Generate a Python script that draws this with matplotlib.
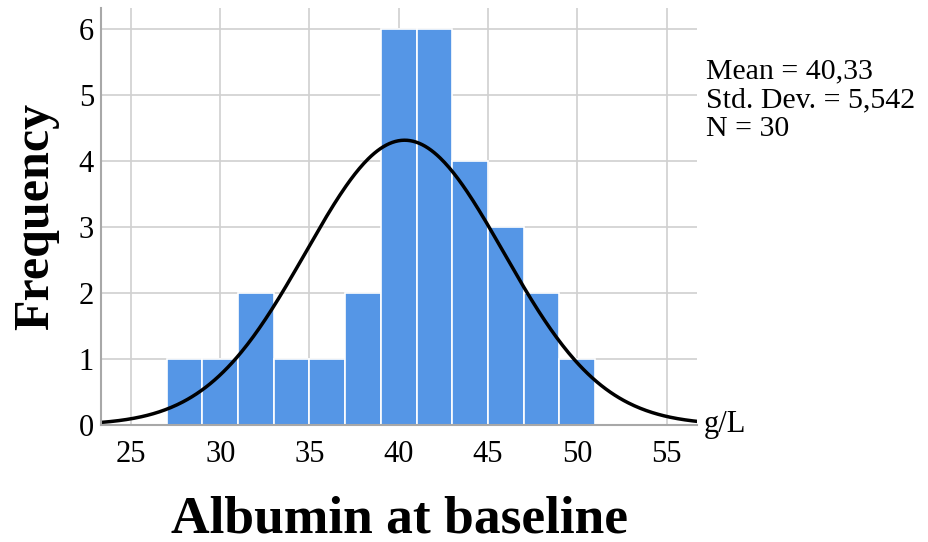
import numpy as np
import matplotlib
matplotlib.use("Agg")
import matplotlib.pyplot as plt

# histogram bins (g/L) and counts
BIN_EDGES = [27, 29, 31, 33, 35, 37, 39, 41, 43, 45, 47, 49, 51]
COUNTS = [1, 1, 2, 1, 1, 2, 6, 6, 4, 3, 2, 1]
MEAN = 40.33
STD = 5.542
N = 30
X_TICKS = [25, 30, 35, 40, 45, 50, 55]
Y_TICKS = [0, 1, 2, 3, 4, 5, 6]

plt.rcParams["font.family"] = ["Liberation Serif", "DejaVu Serif"]

fig = plt.figure(figsize=(9.29, 5.42), dpi=100)
ax = fig.add_axes([0.1087, 0.2159, 0.6416, 0.7688])

edges = np.array(BIN_EDGES, dtype=float)
ax.bar(edges[:-1], COUNTS, width=np.diff(edges), align="edge",
       color="#5596e6", edgecolor="white", linewidth=1.2, zorder=2)

xlo, xhi = 23.32, 56.71
xs = np.linspace(xlo, xhi, 400)
bw = edges[1] - edges[0]
ys = N * bw / (STD * np.sqrt(2 * np.pi)) * np.exp(-0.5 * ((xs - MEAN) / STD) ** 2)
ax.plot(xs, ys, color="black", linewidth=2.5, zorder=3)

ax.set_xlim(xlo, xhi)
ax.set_ylim(0, 6.32)
ax.set_xticks(X_TICKS)
ax.set_yticks(Y_TICKS)
ax.tick_params(axis="both", length=0, labelsize=22)
ax.tick_params(axis="x", pad=11)
ax.tick_params(axis="y", pad=5)
ax.grid(True, color="#d0d0d0", linewidth=1.2, zorder=0)
ax.set_axisbelow(True)
for side in ("top", "right"):
    ax.spines[side].set_visible(False)
for side in ("left", "bottom"):
    ax.spines[side].set_color("#a8a8a8")
    ax.spines[side].set_linewidth(1.5)
    ax.spines[side].set_zorder(4)

ax.set_ylabel("Frequency", fontsize=36, fontweight="bold", labelpad=14)
ax.set_xlabel("Albumin at baseline", fontsize=38.5, fontweight="bold", labelpad=19)

ax.text(1.012, 0.0, "g/L", transform=ax.transAxes, fontsize=22,
        ha="left", va="center")
mean_s = f"{MEAN:.2f}".replace(".", ",")
std_s = f"{STD:.3f}".replace(".", ",")
fig.text(0.76, 0.815, f"Mean = {mean_s}\nStd. Dev. = {std_s}\nN = {N}",
         fontsize=21.5, ha="left", va="center", linespacing=1.12)

fig.savefig("out.png", dpi=100)
